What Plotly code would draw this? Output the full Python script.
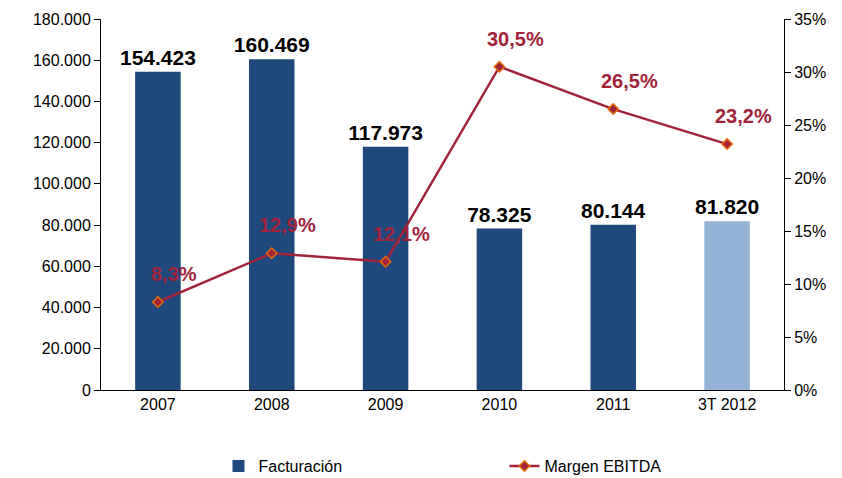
import plotly.graph_objects as go

years = ['2007', '2008', '2009', '2010', '2011', '3T 2012']
facturacion = [154423, 160469, 117973, 78325, 80144, 81820]
margen = [8.3, 12.9, 12.1, 30.5, 26.5, 23.2]
bar_colors = ['#1F497D'] * 5 + ['#95B3D7']

RED = '#A0233A'
FONT = 'Liberation Sans, Arial, sans-serif'

pos = list(range(len(years)))

fig = go.Figure()

fig.add_trace(go.Bar(x=pos, y=facturacion, name='Facturación',
                     marker=dict(color=bar_colors, line=dict(width=0)),
                     width=0.4,
                     texttemplate='<b>%{y:,d}</b>', textposition='outside',
                     constraintext='none',
                     textfont=dict(family=FONT, size=21, color='black'),
                     cliponaxis=False))

fig.add_trace(go.Scatter(x=pos, y=margen, name='Margen EBITDA', yaxis='y2',
                         mode='lines+markers',
                         line=dict(color=RED, width=2.5),
                         marker=dict(symbol='diamond', size=8, color=RED,
                                     line=dict(color='#E46C0A', width=1.5))))

for i, m in zip(pos, margen):
    fig.add_annotation(x=i, y=m, yref='y2',
                       text='<b>' + f'{m:.1f}%'.replace('.', ',') + '</b>',
                       showarrow=False, xshift=16, yshift=28,
                       font=dict(family=FONT, size=20, color=RED))

# page body has an 8px margin, so the figure is a bit smaller and shifted
fig.update_layout(
    width=834, height=470,
    margin=dict(l=93, r=58, t=11, b=88, autoexpand=False),
    plot_bgcolor='white', paper_bgcolor='white',
    separators=',.',
    font=dict(family=FONT, size=16, color='black'),
    showlegend=True,
    legend=dict(orientation='h', x=0.172, xanchor='left', y=-0.205, yanchor='middle',
                entrywidth=241, font=dict(size=16)),
    xaxis=dict(range=[-0.5, 5.5], tickvals=pos, ticktext=years,
               showline=True, linecolor='black', linewidth=1,
               ticks='', showgrid=False, zeroline=False, tickfont=dict(size=16)),
    yaxis=dict(range=[0, 180000], dtick=20000, tickformat=',d',
               showline=True, linecolor='black', linewidth=1,
               ticks='outside', ticklen=6, tickcolor='black',
               showgrid=False, zeroline=False),
    yaxis2=dict(range=[0, 35], dtick=5, ticksuffix='%', overlaying='y', side='right',
                showline=True, linecolor='black', linewidth=1,
                ticks='outside', ticklen=6, tickcolor='black',
                showgrid=False, zeroline=False),
)

fig.write_html('out.html')
